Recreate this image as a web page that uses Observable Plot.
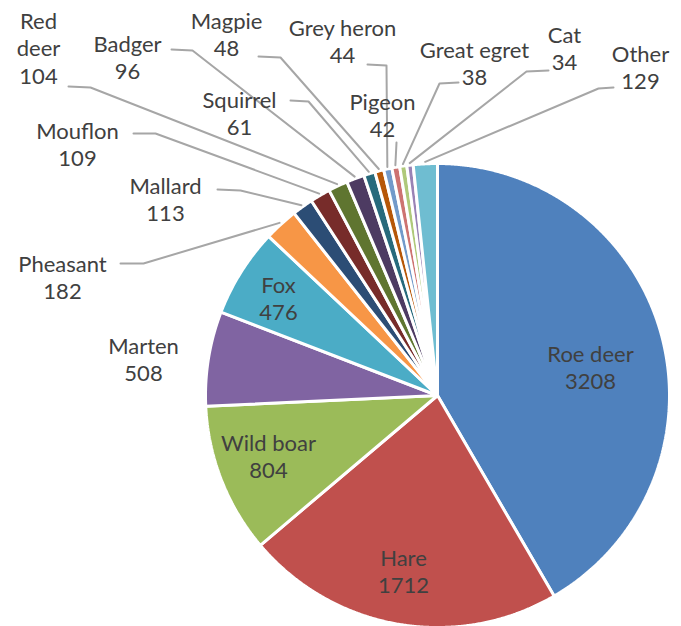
<!DOCTYPE html>
<html><head><meta charset="utf-8">
<script src="https://cdn.jsdelivr.net/npm/d3@7"></script>
<script src="https://cdn.jsdelivr.net/npm/@observablehq/plot@0.6"></script>
<style>body{margin:0;background:#fff;}</style>
</head><body><div id="chart"></div>
<script>
// ---- data ----
const species = ["Roe deer","Hare","Wild boar","Marten","Fox","Pheasant","Mallard","Mouflon","Red deer","Badger","Squirrel","Magpie","Grey heron","Pigeon","Great egret","Cat","Other"];
const counts  = [3208,1712,804,508,476,182,113,109,104,96,61,48,44,42,38,34,129];
const palette = ["#4F81BD","#C0504D","#9BBB59","#8064A2","#4BACC6","#F79646","#2C4D75","#772C2A","#5F7530","#4D3B62","#276A7C","#B65708","#729ACA","#CD7371","#AFC97A","#9983B5","#6FBDD1"];
const labelText = ["Roe deer","Hare","Wild boar","Marten","Fox","Pheasant","Mallard","Mouflon","Red\ndeer","Badger","Squirrel","Magpie","Grey heron","Pigeon","Great egret","Cat","Other"];

// ---- layout (pixels) ----
const W = 681, H = 626;
const cx = 437, cy = 395, R = 232;
const labelXY = [[590,366],[403,570],[268,455],[143,358],[278,297],[62,276],[165,198],[77,143],[38,47],[127,56],[239,112],[226,33],[342,40],[382,114],[474,62],[564,47],[640,66]];
// leader start + elbow per outside label (null = none)
const leaderPts = [null,null,null,null,null,
  [[120,263],[143,263]],
  [[217,189],[240,190]],
  [[133,133],[155,133]],
  [[68,86],[90,87]],
  [[171,49],[192,50]],
  [[290,100],[308,101]],
  [[258,56],[280,57]],
  [[367,64],[386,65]],
  [[396,142],[396,142]],
  [[458,82],[439,83]],
  [[548,70],[526,71]],
  [[613,87],[598,88]]];

const total = d3.sum(counts);
let cum = 0;
const slices = species.map((name, i) => {
  const a0 = cum / total * 2 * Math.PI;
  cum += counts[i];
  const a1 = cum / total * 2 * Math.PI;
  return {name, value: counts[i], a0, a1, mid: (a0 + a1) / 2};
});
const px = (a, r) => cx + r * Math.sin(a);
const py = (a, r) => cy - r * Math.cos(a);

const slicePts = slices.flatMap(s => {
  const n = Math.max(2, Math.ceil((s.a1 - s.a0) / 0.005));
  const pts = [{name: s.name, x: cx, y: cy}];
  for (let k = 0; k <= n; k++) {
    const a = s.a0 + (s.a1 - s.a0) * k / n;
    pts.push({name: s.name, x: px(a, R), y: py(a, R)});
  }
  pts.push({name: s.name, x: cx, y: cy});
  return pts;
});

const leaderData = slices.flatMap((s, i) => {
  const lp = leaderPts[i];
  if (!lp) return [];
  return [
    {name: s.name, x: lp[0][0], y: lp[0][1]},
    {name: s.name, x: lp[1][0], y: lp[1][1]},
    {name: s.name, x: px(s.mid, R + 2), y: py(s.mid, R + 2)}
  ];
});

const labels = slices.map((s, i) => ({
  text: labelText[i] + "\n" + s.value,
  x: labelXY[i][0], y: labelXY[i][1]
}));

const chart = Plot.plot({
  width: W, height: H,
  margin: 0,
  x: {domain: [0, W], range: [0, W], axis: null},
  y: {domain: [0, H], range: [0, H], axis: null},
  color: {domain: species, range: palette},
  style: {fontFamily: "Lato, sans-serif", background: "#fff"},
  marks: [
    Plot.line(slicePts, {x: "x", y: "y", z: "name", fill: "name", stroke: "white", strokeWidth: 3, strokeLinejoin: "miter", curve: "linear"}),
    Plot.line(leaderData, {x: "x", y: "y", z: "name", stroke: "#a6a6a6", strokeWidth: 2, curve: "linear"}),
    Plot.text(labels, {x: "x", y: "y", text: "text", fontSize: 22, lineHeight: 1.25, fill: "#404040"})
  ]
});
document.getElementById("chart").appendChild(chart);
</script>
</body></html>
